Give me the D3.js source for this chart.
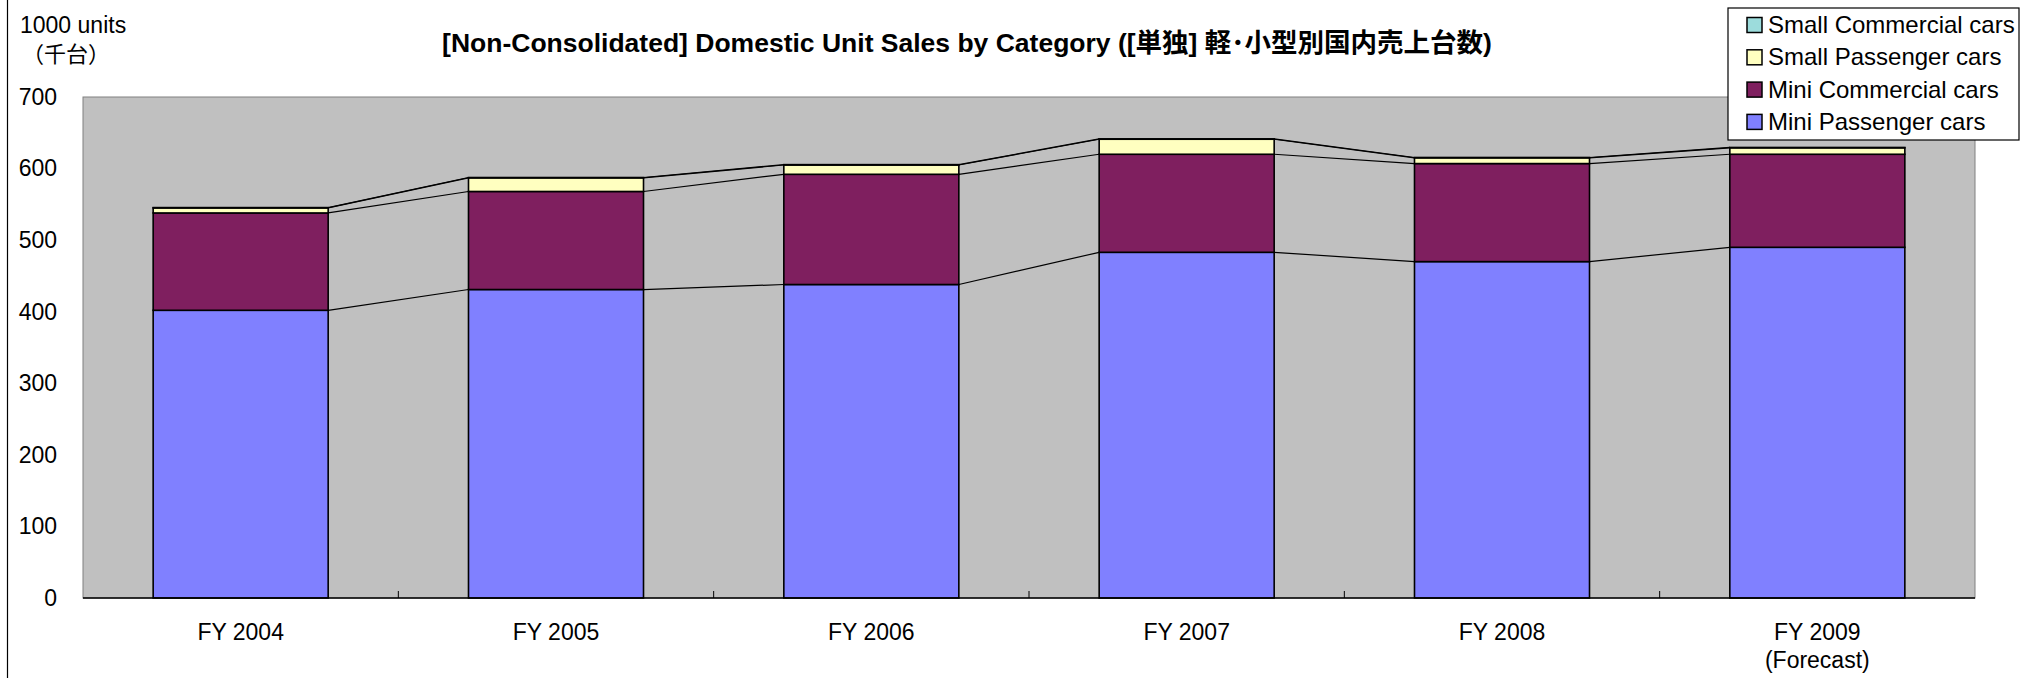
<!DOCTYPE html>
<html>
<head>
<meta charset="utf-8">
<script src="https://cdn.jsdelivr.net/npm/d3@7"></script>
<style>
  body { margin: 0; background: #fff; }
  text { font-family: "Liberation Sans", Arial, sans-serif; fill: #000; }
</style>
</head>
<body>
<figure id="chart" style="margin:0"></figure>
<script>
// values (1000 units)
var categories = ["FY 2004", "FY 2005", "FY 2006", "FY 2007", "FY 2008", "FY 2009"];
var subLabels = ["", "", "", "", "", "(Forecast)"];
var miniPassenger = [402, 431, 438, 483, 470, 490];
var miniCommercial = [136, 137, 154, 137, 137, 130];
var smallPassenger = [7, 19, 13, 21, 8, 9];
var smallCommercial = [0.5, 0.5, 0.5, 0.5, 0.5, 0.5];
var seriesNames = ["Mini Passenger cars", "Mini Commercial cars", "Small Passenger cars", "Small Commercial cars"];
var seriesColors = ["#8080ff", "#7f1f5f", "#ffffc0", "#9cdcdc"];
var yTicks = [0, 100, 200, 300, 400, 500, 600, 700];

var W = 2020, H = 678;
var margin = {top: 97, right: 45, bottom: 80, left: 83},
  width = W - margin.left - margin.right,
  height = H - margin.top - margin.bottom;

var rows = categories.map(function(c, i) {
  return {cat: c, s0: miniPassenger[i], s1: miniCommercial[i], s2: smallPassenger[i], s3: smallCommercial[i]};
});
var keys = ["s0", "s1", "s2", "s3"];
var stacked = d3.stack().keys(keys)(rows);

var svg = d3.select("figure#chart")
  .append("svg")
  .attr("width", W)
  .attr("height", H);

// outer chart frame (only the left edge shows)
svg.append("line")
  .attr("x1", 7.5).attr("x2", 7.5).attr("y1", 0).attr("y2", H)
  .attr("stroke", "#000").attr("stroke-width", 1.2);

var g = svg.append("g")
  .attr("transform", "translate(" + margin.left + "," + margin.top + ")");

var x = d3.scaleBand()
  .domain(categories)
  .range([0, width])
  .paddingInner(0.445)
  .paddingOuter(0.2225);

var y = d3.scaleLinear()
  .domain([0, 700])
  .range([height, 0]);

// plot area
g.append("rect")
  .attr("x", 0).attr("y", 0)
  .attr("width", width).attr("height", height)
  .attr("fill", "#c0c0c0")
  .attr("stroke", "#808080")
  .attr("stroke-width", 1);

// y axis labels
var yAxis = g.append("g")
  .call(d3.axisLeft(y).tickValues(yTicks).tickSize(0).tickPadding(26));
yAxis.select(".domain").remove();
yAxis.selectAll("text")
  .style("font-size", "23px")
  .style("font-family", "'Liberation Sans', Arial, sans-serif")
  .attr("fill", "#000");

// series lines between bars
var bw = x.bandwidth();
stacked.forEach(function(layer) {
  for (var i = 0; i < categories.length - 1; i++) {
    g.append("line")
      .attr("x1", x(categories[i]) + bw)
      .attr("y1", y(layer[i][1]))
      .attr("x2", x(categories[i + 1]))
      .attr("y2", y(layer[i + 1][1]))
      .attr("stroke", "#000")
      .attr("stroke-width", 1.2);
  }
});

// bars
g.append("g")
  .selectAll("g")
  .data(stacked)
  .enter()
  .append("g")
    .attr("fill", function(d, i) { return seriesColors[i]; })
  .selectAll("rect")
  .data(function(d) { return d; })
  .enter()
  .append("rect")
    .attr("x", function(d) { return x(d.data.cat); })
    .attr("y", function(d) { return y(d[1]); })
    .attr("width", bw)
    .attr("height", function(d) { return y(d[0]) - y(d[1]); })
    .attr("stroke", "#000")
    .attr("stroke-width", 1.6);

// x axis: line and inward ticks at category boundaries
g.append("line")
  .attr("x1", 0).attr("x2", width)
  .attr("y1", height).attr("y2", height)
  .attr("stroke", "#000").attr("stroke-width", 1.5);
var step = x.step();
d3.range(1, categories.length).forEach(function(k) {
  g.append("line")
    .attr("x1", k * step).attr("x2", k * step)
    .attr("y1", height).attr("y2", height - 7)
    .attr("stroke", "#000").attr("stroke-width", 1);
});

// category labels
categories.forEach(function(c, i) {
  var cx = x(c) + bw / 2;
  g.append("text")
    .attr("x", cx).attr("y", height + 42)
    .attr("text-anchor", "middle")
    .style("font-size", "23px")
    .text(c);
  if (subLabels[i]) {
    g.append("text")
      .attr("x", cx).attr("y", height + 70)
      .attr("text-anchor", "middle")
      .style("font-size", "23px")
      .text(subLabels[i]);
  }
});

// unit label
svg.append("text").attr("x", 20).attr("y", 33).style("font-size", "23px").text("1000 units");
svg.append("text").attr("x", 22).attr("y", 62).style("font-size", "22px")
  .style("font-family", "'Noto Sans CJK JP', sans-serif").text("（千台）");

// title
svg.append("text")
  .attr("x", 967).attr("y", 52)
  .attr("text-anchor", "middle")
  .style("font-size", "26.5px")
  .style("font-weight", "bold")
  .style("font-family", "'Liberation Sans', 'Noto Sans CJK JP', sans-serif")
  .text("[Non-Consolidated] Domestic Unit Sales by Category ([単独] 軽･小型別国内売上台数)");

// legend (top series first)
var legend = svg.append("g").attr("transform", "translate(1728,8)");
legend.append("rect")
  .attr("width", 291).attr("height", 132)
  .attr("fill", "#fff").attr("stroke", "#000").attr("stroke-width", 1.2);
[3, 2, 1, 0].forEach(function(si, row) {
  var ly = 17 + row * 32.3;
  legend.append("rect")
    .attr("x", 19).attr("y", ly - 7.5)
    .attr("width", 15).attr("height", 15)
    .attr("fill", seriesColors[si])
    .attr("stroke", "#000").attr("stroke-width", 1.5);
  legend.append("text")
    .attr("x", 40).attr("y", ly + 8)
    .style("font-size", "24px")
    .text(seriesNames[si]);
});
</script>
</body>
</html>
